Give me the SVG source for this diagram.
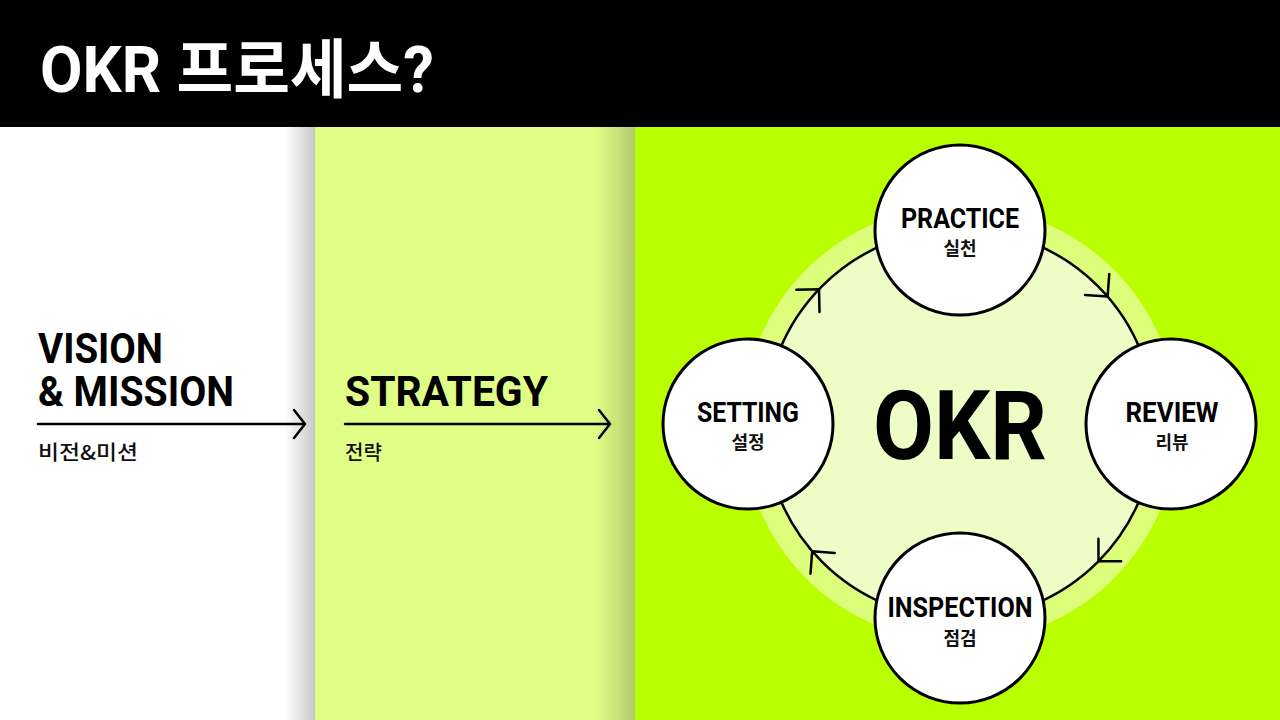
<svg xmlns="http://www.w3.org/2000/svg" width="1280" height="720" viewBox="0 0 1280 720">
<defs>
<linearGradient id="sh1" x1="0" y1="0" x2="1" y2="0">
<stop offset="0" stop-color="#000" stop-opacity="0"/>
<stop offset="1" stop-color="#000" stop-opacity="0.22"/>
</linearGradient>
<linearGradient id="sh2" x1="0" y1="0" x2="1" y2="0">
<stop offset="0" stop-color="#000" stop-opacity="0"/>
<stop offset="1" stop-color="#000" stop-opacity="0.2"/>
</linearGradient>
</defs>
<style>
.lat{font-family:Roboto,"Noto Sans CJK KR",sans-serif;font-weight:700;fill:#000}
.kr{font-family:"Noto Sans CJK KR",sans-serif;font-weight:500;fill:#111}
.node{fill:#fff;stroke:#000;stroke-width:3}
.ln{fill:none;stroke:#000;stroke-width:2.5;stroke-linecap:round;stroke-linejoin:round}
.lbl{font-family:Roboto,"Noto Sans CJK KR",sans-serif;font-weight:700;font-size:27px;text-anchor:middle;fill:#000}
.sub{font-family:"Noto Sans CJK KR",sans-serif;font-weight:700;font-size:18px;text-anchor:middle;fill:#111}
</style>
<!-- backgrounds -->
<rect x="0" y="0" width="1280" height="720" fill="#fff"/>
<rect x="0" y="0" width="1280" height="127" fill="#000"/>
<rect x="285" y="127" width="30" height="593" fill="url(#sh1)"/>
<rect x="315" y="127" width="320" height="593" fill="#E0FE86"/>
<rect x="595" y="127" width="40" height="593" fill="url(#sh2)"/>
<rect x="635" y="127" width="645" height="593" fill="#B9FF00"/>
<text x="40" y="92" font-family="Roboto,'Noto Sans CJK KR',sans-serif" font-weight="700" font-size="64" fill="#fff" textLength="394" lengthAdjust="spacingAndGlyphs">OKR 프로세스?</text>

<!-- left columns -->
<g id="vision">
<text class="lat" x="38" y="363" font-size="42" textLength="125" lengthAdjust="spacingAndGlyphs">VISION</text>
<text class="lat" x="38" y="406" font-size="42" textLength="196" lengthAdjust="spacingAndGlyphs">&amp; MISSION</text>
<text class="kr" x="38" y="460" font-size="20" textLength="100" lengthAdjust="spacingAndGlyphs">비전&amp;미션</text>
</g>
<g id="strategy">
<text class="lat" x="345" y="406" font-size="43" textLength="203" lengthAdjust="spacingAndGlyphs">STRATEGY</text>
<text class="kr" x="345" y="460" font-size="20">전략</text>
</g>

<!-- cycle background -->
<g id="okr-ring">
<circle cx="960" cy="424" r="218" fill="#DCFE7B"/>
<circle cx="960" cy="424" r="195" fill="#EEFCC6" stroke="#000" stroke-width="2.5"/>
<text class="lat" x="960" y="459" font-size="97" text-anchor="middle" textLength="174" lengthAdjust="spacingAndGlyphs">OKR</text>
</g>

<g id="connectors">
<path class="ln" d="M38,424 H305 M294,410 L305,424 L294,438"/>
<path class="ln" d="M345,424 H610 M599,410 L610,424 L599,438"/>
<path class="ln" d="M-16,-16 L0,0 L-16,16" transform="translate(819,289.3) rotate(-46.3)"/>
<path class="ln" d="M-16,-16 L0,0 L-16,16" transform="translate(1107.6,296.6) rotate(49.2)"/>
<path class="ln" d="M-16,-16 L0,0 L-16,16" transform="translate(1098.5,561.3) rotate(134.8)"/>
<path class="ln" d="M-16,-16 L0,0 L-16,16" transform="translate(812.2,551.2) rotate(229.3)"/>
</g>

<g id="practice">
<circle class="node" cx="960" cy="230" r="85"/>
<text class="lbl" x="960" y="228" textLength="118" lengthAdjust="spacingAndGlyphs">PRACTICE</text>
<text class="sub" x="960" y="255">실천</text>
</g>
<g id="review">
<circle class="node" cx="1171" cy="424" r="85"/>
<text class="lbl" x="1172" y="422" textLength="93" lengthAdjust="spacingAndGlyphs">REVIEW</text>
<text class="sub" x="1172" y="449">리뷰</text>
</g>
<g id="inspection">
<circle class="node" cx="960" cy="618" r="85"/>
<text class="lbl" x="960" y="617" textLength="145" lengthAdjust="spacingAndGlyphs">INSPECTION</text>
<text class="sub" x="960" y="645">점검</text>
</g>
<g id="setting">
<circle class="node" cx="748" cy="424" r="85"/>
<text class="lbl" x="748" y="422" textLength="102" lengthAdjust="spacingAndGlyphs">SETTING</text>
<text class="sub" x="748" y="449">설정</text>
</g>
</svg>
